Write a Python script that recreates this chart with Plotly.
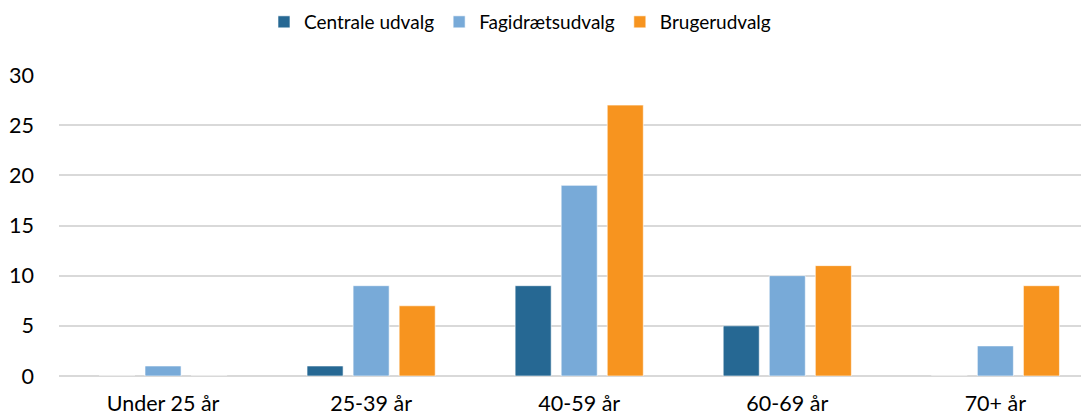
import plotly.graph_objects as go

categories = ["Under 25 år", "25-39 år", "40-59 år", "60-69 år", "70+ år"]
centrale = [0, 1, 9, 5, 0]
fagidraet = [1, 9, 19, 10, 3]
bruger = [0, 7, 27, 11, 9]

series = [
    ("Centrale udvalg", centrale, "#266893"),
    ("Fagidrætsudvalg", fagidraet, "#78AAD8"),
    ("Brugerudvalg", bruger, "#F7941F"),
]

fig = go.Figure()
for name, vals, col in series:
    fig.add_trace(go.Bar(
        x=categories, y=vals, name=name,
        marker=dict(color=col, line=dict(color="rgba(255,255,255,0.6)", width=1)),
    ))

font = "Lato, Carlito, 'Open Sans', sans-serif"
fig.update_layout(
    width=1081, height=409,
    margin=dict(l=51, r=0, t=67, b=41, autoexpand=False),
    paper_bgcolor="white", plot_bgcolor="white",
    barmode="group", bargap=0.336, bargroupgap=0.217,
    font=dict(family=font, size=21.5, color="#000000"),
    legend=dict(orientation="h", xref="container", x=0.2368, xanchor="left",
                y=0.9658, yanchor="middle", yref="container", font=dict(size=19),
                itemwidth=30, traceorder="normal"),
    showlegend=True,
)
fig.update_xaxes(showgrid=False, showline=False, ticks="", zeroline=False,
                 range=[-0.5, 4.45], tickfont=dict(size=21.5), ticklabelstandoff=12)
fig.update_yaxes(range=[0, 30], dtick=5, showgrid=True, gridcolor="#D9D9D9",
                 gridwidth=1.5, zeroline=True, zerolinecolor="#D9D9D9", zerolinewidth=1.5,
                 showline=False, ticks="", ticklabelstandoff=24, tickfont=dict(size=21.5))

fig.write_html("out.html")
